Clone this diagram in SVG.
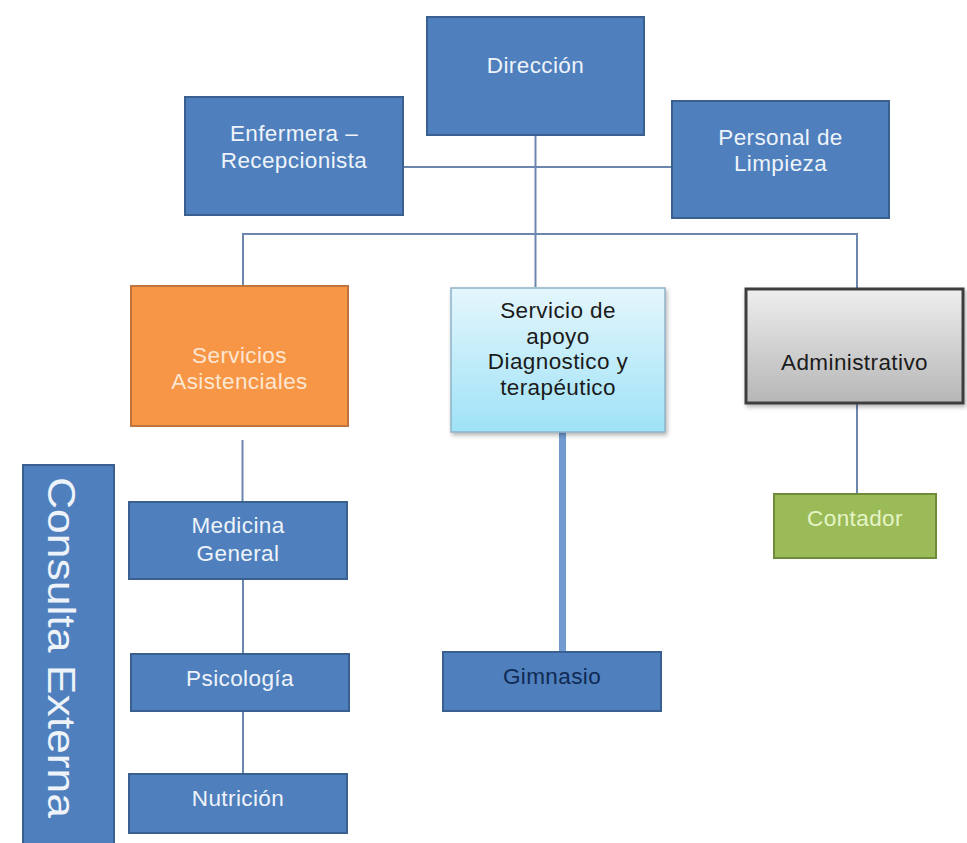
<svg xmlns="http://www.w3.org/2000/svg" width="967" height="843" viewBox="0 0 967 843">
  <defs>
    <linearGradient id="gApoyo" x1="0" y1="0" x2="0" y2="1">
      <stop offset="0" stop-color="#e4f6fc"/>
      <stop offset="1" stop-color="#9fe2f7"/>
    </linearGradient>
    <linearGradient id="gAdmin" x1="0" y1="0" x2="0" y2="1">
      <stop offset="0" stop-color="#eeeeee"/>
      <stop offset="1" stop-color="#b6b6b6"/>
    </linearGradient>
    <filter id="shadow" x="-10%" y="-10%" width="125%" height="130%">
      <feDropShadow dx="1.5" dy="2.5" stdDeviation="2" flood-color="#000" flood-opacity="0.3"/>
    </filter>
  </defs>
  <style>
    text { font-family: "Liberation Sans", Arial, sans-serif; font-size: 22.5px; letter-spacing: 0.4px; text-anchor: middle; }
    .blue rect { fill: #4f80bd; stroke: #3a6092; stroke-width: 2; }
    .blue text { fill: #eef3fa; }
    .dark text { fill: #1b1b1b; }
    .conn line { stroke: #6d86ad; stroke-width: 2; }
  </style>
  <rect width="967" height="843" fill="#ffffff"/>

  <g id="connectors" class="conn">
    <line x1="535.5" y1="135" x2="535.5" y2="287"/>
    <line x1="403" y1="167" x2="672" y2="167"/>
    <line x1="243" y1="234" x2="857" y2="234"/>
    <line x1="243" y1="233" x2="243" y2="286"/>
    <line x1="857" y1="233" x2="857" y2="289"/>
    <line x1="242.5" y1="440" x2="242.5" y2="502"/>
    <line x1="243" y1="579" x2="243" y2="654"/>
    <line x1="243" y1="711" x2="243" y2="774"/>
    <line x1="857" y1="403" x2="857" y2="493"/>
    <line x1="562.5" y1="432" x2="562.5" y2="653" style="stroke:#729bd2;stroke-width:7"/>
  </g>

  <g id="direccion" class="blue">
    <rect x="427" y="17" width="217" height="118"/>
    <text x="535.5" y="73">Dirección</text>
  </g>

  <g id="enfermera" class="blue">
    <rect x="185" y="97" width="218" height="118"/>
    <text x="294" y="141">Enfermera –</text>
    <text x="294" y="168">Recepcionista</text>
  </g>

  <g id="limpieza" class="blue">
    <rect x="672" y="101" width="217" height="117"/>
    <text x="780.5" y="145">Personal de</text>
    <text x="780.5" y="171">Limpieza</text>
  </g>

  <g id="asistenciales">
    <rect x="131" y="286" width="217" height="140" fill="#f79646" stroke="#c0733a" stroke-width="2"/>
    <text x="239.5" y="363" fill="#fde6d2">Servicios</text>
    <text x="239.5" y="389" fill="#fde6d2">Asistenciales</text>
  </g>

  <g id="apoyo" class="dark">
    <rect x="451" y="288" width="214" height="144" fill="url(#gApoyo)" stroke="#8fb2c6" stroke-width="1.5" filter="url(#shadow)"/>
    <text x="558" y="318">Servicio de</text>
    <text x="558" y="343.5">apoyo</text>
    <text x="558" y="369">Diagnostico y</text>
    <text x="558" y="394.5">terapéutico</text>
  </g>

  <g id="administrativo" class="dark">
    <rect x="746" y="289" width="217" height="114" fill="url(#gAdmin)" stroke="#3e3e3e" stroke-width="3" filter="url(#shadow)"/>
    <text x="854.5" y="370">Administrativo</text>
  </g>

  <g id="consulta-externa" class="blue">
    <rect x="23" y="465" width="91" height="390"/>
    <text transform="translate(48,477) rotate(90)" x="0" y="0" style="font-size:38px;letter-spacing:0;text-anchor:start" textLength="341" lengthAdjust="spacingAndGlyphs">Consulta Externa</text>
  </g>

  <g id="medicina" class="blue">
    <rect x="129" y="502" width="218" height="77"/>
    <text x="238" y="533">Medicina</text>
    <text x="238" y="561">General</text>
  </g>

  <g id="psicologia" class="blue">
    <rect x="131" y="654" width="218" height="57"/>
    <text x="240" y="686">Psicología</text>
  </g>

  <g id="nutricion" class="blue">
    <rect x="129" y="774" width="218" height="59"/>
    <text x="238" y="806">Nutrición</text>
  </g>

  <g id="gimnasio" class="blue">
    <rect x="443" y="652" width="218" height="59"/>
    <text x="552" y="684" style="fill:#102a55">Gimnasio</text>
  </g>

  <g id="contador">
    <rect x="774" y="494" width="162" height="64" fill="#9bbb59" stroke="#6e8b3a" stroke-width="2"/>
    <text x="855" y="526" fill="#e6f4c6">Contador</text>
  </g>
</svg>
